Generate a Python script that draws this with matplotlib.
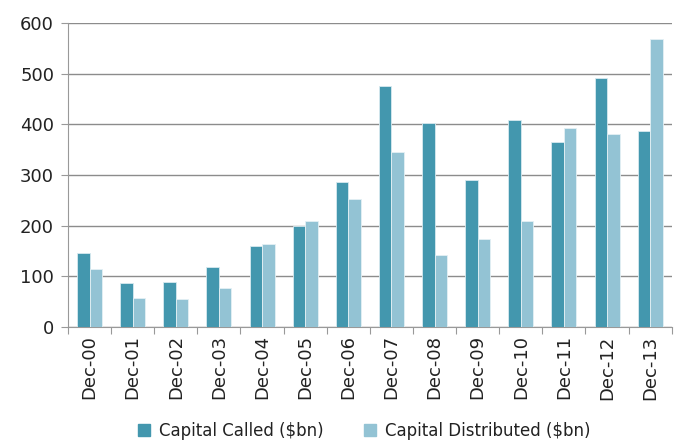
import numpy as np
import matplotlib
matplotlib.use("Agg")
from matplotlib import pyplot as plt
from matplotlib.lines import Line2D

categories = ["Dec-00", "Dec-01", "Dec-02", "Dec-03", "Dec-04", "Dec-05", "Dec-06",
              "Dec-07", "Dec-08", "Dec-09", "Dec-10", "Dec-11", "Dec-12", "Dec-13"]
capital_called = [146, 87, 89, 119, 160, 200, 287, 476, 403, 290, 408, 366, 491, 387]
capital_distributed = [114, 57, 56, 77, 164, 209, 252, 345, 142, 173, 209, 392, 380, 568]
y_ticks = [0, 100, 200, 300, 400, 500, 600]

dark = "#4397ae"
light = "#93c3d4"

plt.rcParams["font.family"] = ["DejaVu Sans"]

fig = plt.figure(figsize=(6.84, 4.41), dpi=100)
ax = fig.add_axes([0.0994, 0.2585, 0.8826, 0.6895])

x = np.arange(len(categories))
w = 0.29
ax.bar(x - w / 2, capital_called, w, color=dark, edgecolor="#d8eaf0", linewidth=0.6, zorder=3)
ax.bar(x + w / 2, capital_distributed, w, color=light, edgecolor="#e4f0f4", linewidth=0.6, zorder=3)

ax.set_xlim(-0.5, len(categories) - 0.5)
ax.set_ylim(0, 600)
ax.set_yticks(y_ticks)
ax.grid(axis="y", color="#8c8c8c", linewidth=1, zorder=0)

# ticks sit between categories, labels at centres
ax.set_xticks(np.arange(-0.5, len(categories), 1.0))
ax.set_xticklabels([])
ax.set_xticks(x, minor=True)
ax.set_xticklabels(categories, minor=True, rotation=90, fontsize=13, color="#222222")
ax.tick_params(axis="x", which="minor", length=0, pad=6)
ax.tick_params(axis="x", which="major", length=5, color="#999999")
ax.tick_params(axis="y", length=5, color="#999999", labelsize=13, labelcolor="#222222", pad=5)

for s in ["top", "right"]:
    ax.spines[s].set_visible(False)
ax.spines["left"].set_color("#999999")
ax.spines["bottom"].set_color("#999999")

handles = [
    Line2D([], [], marker="s", linestyle="none", markersize=8, color=dark),
    Line2D([], [], marker="s", linestyle="none", markersize=8, color=light),
]
fig.legend(handles, ["Capital Called ($bn)", "Capital Distributed ($bn)"],
           loc="center", bbox_to_anchor=(0.525, 0.022), ncol=2, frameon=False,
           fontsize=12, handletextpad=-0.1, columnspacing=1.8, labelcolor="#222222")

fig.savefig("out.png", dpi=100)
